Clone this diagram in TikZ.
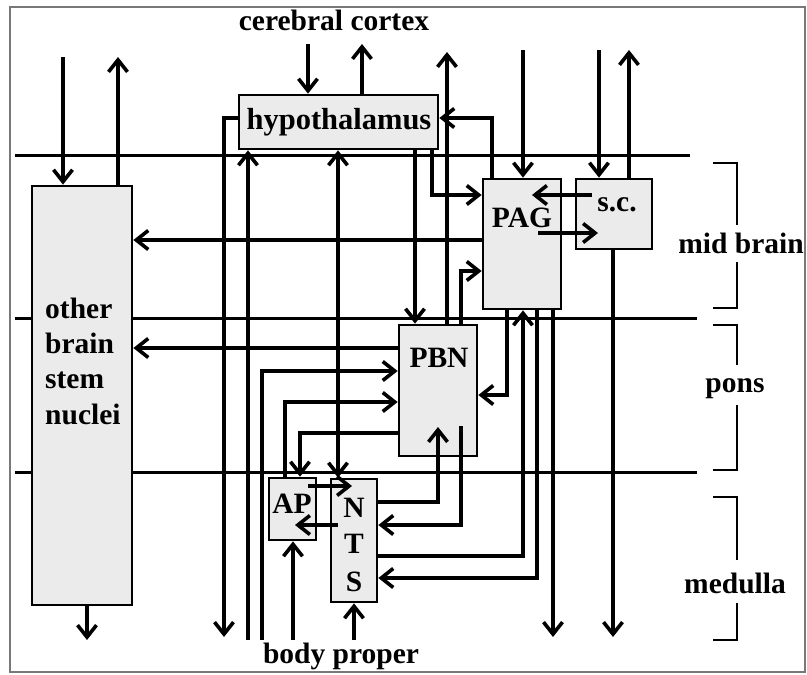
\documentclass[tikz,border=0pt]{standalone}
\usepackage{fontspec}
\setmainfont{Liberation Serif}
\usetikzlibrary{arrows.meta}
\definecolor{boxgray}{RGB}{235,235,235}
\definecolor{framegray}{RGB}{120,120,120}
\begin{document}
\begin{tikzpicture}[x=1pt,y=-1pt,
  box/.style={draw=black, line width=2.7pt, fill=boxgray, inner sep=0pt},
  lbl/.style={font=\fontsize{29.5}{34}\selectfont\bfseries, inner sep=0pt, anchor=base},
  conn/.style={line width=3.6pt},
  arr/.style={conn, -{Straight Barb[length=12pt,width=19pt]}},
  arrb/.style={conn, {Straight Barb[length=12pt,width=19pt]}-{Straight Barb[length=12pt,width=19pt]}},
  sep/.style={line width=3pt},
  brk/.style={line width=1.7pt},
]
\useasboundingbox (0,0) rectangle (807,675);
\draw[line width=1.6pt, draw=framegray] (10,7) rectangle (805,672);
% level separators
\draw[sep] (15,155) -- (690,155);
\draw[sep] (15,318) -- (697,318);
\draw[sep] (15,472) -- (697,472);
% boxes
\node[box, minimum width=100pt, minimum height=419pt] (obn) at (82,395.5) {};
\node[box, minimum width=199pt, minimum height=54pt] (hyp) at (338.5,122) {};
\node[box, minimum width=78pt, minimum height=130pt] (pag) at (522,244) {};
\node[box, minimum width=76pt, minimum height=70pt] (sc) at (614,214) {};
\node[box, minimum width=78pt, minimum height=131pt] (pbn) at (438,390.5) {};
\node[box, minimum width=47pt, minimum height=62pt] (ap) at (292.5,509) {};
\node[box, minimum width=46pt, minimum height=123pt] (nts) at (354,540.5) {};
% free ends
\coordinate (ctxin) at (308,44);
\coordinate (ctxout) at (362,44);
\coordinate (pbnup) at (447,52);
\coordinate (pagin) at (523,50);
\coordinate (scin) at (599,50);
\coordinate (scout) at (629,50);
\coordinate (obnin) at (63,57);
\coordinate (obnout) at (118,57);
\coordinate (obndown) at (87,640);
\coordinate (bhypdown) at (224,637);
\coordinate (bhypup) at (248,640);
\coordinate (bpbn) at (262,640);
\coordinate (bap) at (293,640);
\coordinate (bnts) at (354,640);
\coordinate (pagdown) at (553,637);
\coordinate (scdown) at (613,637);
\coordinate (scpagA) at (592,195);
\coordinate (scpagB) at (532,195);
\coordinate (pagscA) at (538,233);
\coordinate (pagscB) at (598,233);
\coordinate (apntsA) at (308,486);
\coordinate (apntsB) at (352,486);
\coordinate (ntsapA) at (338,525);
\coordinate (ntsapB) at (295,525);
\coordinate (ntspbnT) at (438,427);
\coordinate (pbnntsS) at (461,426);
% connectors
\draw[arr] (ctxin) -- (ctxin |- hyp.north);
\draw[arr] (ctxout |- hyp.north) -- (ctxout);
\draw[arr] (hyp.west |- 0,118) -| (bhypdown);
\draw[arr] (bhypup) -- (bhypup |- hyp.south);
\draw[arrb] (hyp.south -| 338,0) -- (nts.north -| 338,0);
\draw[arr] (hyp.south -| 415,0) -- (pbn.north -| 415,0);
\draw[arr] (hyp.south -| 432,0) |- (pag.west |- 0,195);
\draw[arr] (pag.north -| 492,0) |- (hyp.east |- 0,118);
\draw[arr] (pbn.north -| 447,0) -- (pbnup);
\draw[arr] (pbn.north -| 461,0) |- (pag.west |- 0,271);
\draw[arr] (pagin) -- (pagin |- pag.north);
\draw[arr] (scin) -- (scin |- sc.north);
\draw[arr] (scout |- sc.north) -- (scout);
\draw[arr] (scpagA) -- (scpagB);
\draw[arr] (pagscA) -- (pagscB);
\draw[arr] (pag.west |- 0,240) -- (obn.east |- 0,240);
\draw[arr] (pbn.west |- 0,348) -- (obn.east |- 0,348);
\draw[arr] (bpbn) |- (pbn.west |- 0,371);
\draw[arr] (ap.north -| 285,0) |- (pbn.west |- 0,402);
\draw[arr] (pbn.west |- 0,433) -| (ap.north -| 300,0);
\draw[arr] (nts.east |- 0,502) -| (ntspbnT);
\draw[arr] (pbnntsS) |- (nts.east |- 0,525);
\draw[arr] (pag.south -| 507,0) |- (pbn.east |- 0,395);
\draw[arr] (nts.east |- 0,556) -| (pag.south -| 523,0);
\draw[arr] (pag.south -| 537,0) |- (nts.east |- 0,578);
\draw[arr] (pag.south -| 553,0) -- (pagdown);
\draw[arr] (sc.south -| 613,0) -- (scdown);
\draw[arr] (apntsA) -- (apntsB);
\draw[arr] (ntsapA) -- (ntsapB);
\draw[arr] (bap) -- (bap |- ap.south);
\draw[arr] (bnts) -- (bnts |- nts.south);
\draw[arr] (obnin) -- (obnin |- obn.north);
\draw[arr] (obnout |- obn.north) -- (obnout);
\draw[arr] (obndown |- obn.south) -- (obndown);
% brackets
\draw[brk] (713,163) -- (737,163) -- (737,225);
\draw[brk] (737,262) -- (737,308) -- (713,308);
\draw[brk] (713,325) -- (737,325) -- (737,365);
\draw[brk] (737,405) -- (737,470) -- (713,470);
\draw[brk] (713,497) -- (737,497) -- (737,560);
\draw[brk] (737,603) -- (737,640) -- (713,640);
% labels
\node[lbl] (tcortex) at (334,30) {cerebral cortex};
\node[lbl] (tbody) at (341,663) {body proper};
\node[lbl, font=\fontsize{30.5}{34}\selectfont\bfseries] (thyp) at (339,129) {hypothalamus};
\node[lbl] (tpag) at (522,227) {PAG};
\node[lbl] (tsc) at (617,211) {s.c.};
\node[lbl] (tpbn) at (439,367) {PBN};
\node[lbl] (tap) at (292,513) {AP};
\node[lbl] (tn) at (354,517) {N};
\node[lbl] (tt) at (354,553) {T};
\node[lbl] (ts) at (354,591) {S};
\node[lbl, anchor=base west] (to1) at (45,318) {other};
\node[lbl, anchor=base west] (to2) at (45,353) {brain};
\node[lbl, anchor=base west] (to3) at (45,388) {stem};
\node[lbl, anchor=base west] (to4) at (45,424) {nuclei};
\node[lbl] (tmid) at (741,253) {mid brain};
\node[lbl] (tpons) at (735,392) {pons};
\node[lbl] (tmed) at (735,593) {medulla};
\end{tikzpicture}
\end{document}
